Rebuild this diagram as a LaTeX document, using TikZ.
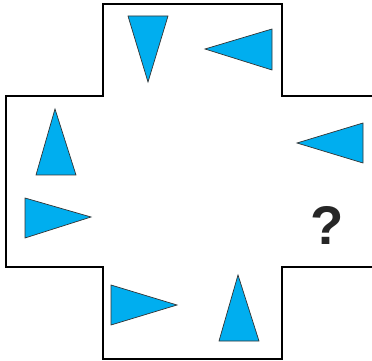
\documentclass[tikz,border=0pt]{standalone}
\usepackage{fontspec}
\setmainfont{Liberation Sans}
\definecolor{tricyan}{RGB}{0,174,239}
\begin{document}
\begin{tikzpicture}[x=0.02cm, y=-0.02cm]
\tikzset{tri/.style={fill=tricyan, draw=black!80, line width=0.4pt}}
\useasboundingbox (0,0) rectangle (372,361);

\draw[line width=0.7pt] (372,96) -- (282,96) -- (282,4) -- (103,4) -- (103,96) -- (6,96) -- (6,267) -- (103,267) -- (103,359) -- (282,359) -- (282,267) -- (372,267);

\draw[tri] (128,16) -- (168,16) -- (148,82) -- cycle;
\draw[tri] (205,49) -- (272,29) -- (272,70) -- cycle;
\draw[tri] (55,109) -- (76,175) -- (36,175) -- cycle;
\draw[tri] (297,143) -- (363,123) -- (363,163) -- cycle;
\draw[tri] (25,198) -- (91,217) -- (25,238) -- cycle;
\draw[tri] (111,285) -- (177,305) -- (111,325) -- cycle;
\draw[tri] (238,275) -- (259,341) -- (219,341) -- cycle;

\node[font=\fontsize{31}{36}\selectfont\bfseries, text=black!85] (q) at (327,225) {?};
\end{tikzpicture}
\end{document}
